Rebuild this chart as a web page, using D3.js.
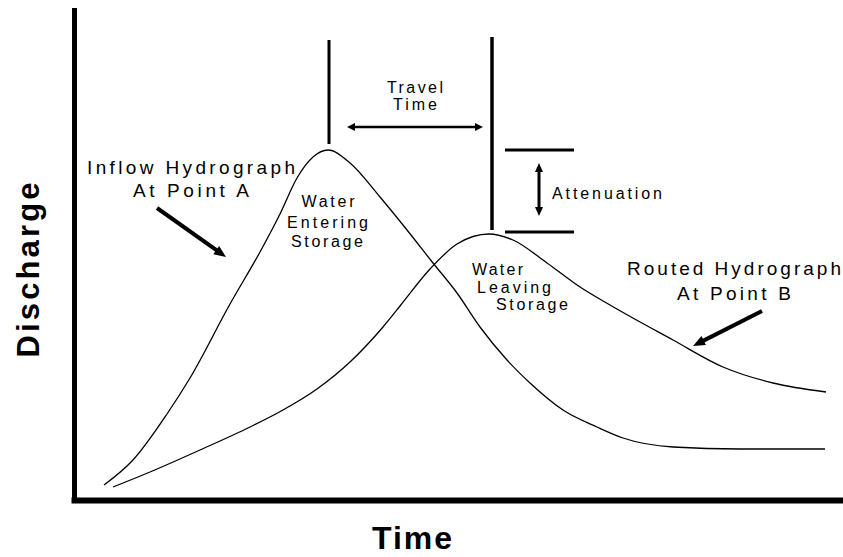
<!DOCTYPE html>
<html>
<head>
<meta charset="utf-8">
<script src="https://cdn.jsdelivr.net/npm/d3@7"></script>
<style>
  body { margin: 0; background: #fff; }
  text { font-family: "Liberation Sans", Arial, sans-serif; fill: #000; }
</style>
</head>
<body>
<div id="chart"></div>
<script>
// inflow hydrograph at point A (time, discharge - arbitrary units)
const inflowTime = [1.5, 2.95, 4.65, 5.8, 7.8, 9.3, 10.3, 11.15, 11.95, 12.7, 13.8, 15.3, 16.65, 17.95, 19.15, 20.3, 21.65, 22.8, 24.45, 26.15, 27.45, 29.95, 33.3, 37.55];
const inflowQ = [3.75, 10, 21.5, 30.5, 49, 62, 71.5, 80.5, 85.75, 87.5, 84.25, 75.75, 67.5, 59.25, 51.75, 43.25, 35, 29.25, 22.5, 18.25, 15.5, 13.25, 12.75, 12.75];

// routed hydrograph at point B
const routedTime = [1.95, 3.8, 6.3, 8.8, 10.45, 12.15, 13.8, 15.45, 16.3, 17.8, 19.15, 20.75, 21.95, 23.65, 25.3, 26.8, 29.95, 32.45, 34.95, 37.6];
const routedQ = [3.25, 7, 12.5, 18.25, 22.5, 27.75, 34.5, 43.25, 48.5, 57.75, 64, 66.5, 65, 59.25, 53.25, 48.75, 40, 33.25, 29.25, 27];

// peak times used for the travel time markers
const peakTimes = [12.75, 20.9];

const width = 843, height = 557;

const svg = d3.select("#chart")
    .append("svg")
    .attr("width", width)
    .attr("height", height);

const x = d3.scaleLinear().domain([0, 38.3]).range([74, 840]);
const y = d3.scaleLinear().domain([0, 122.5]).range([500, 10]);

// axes: plain heavy lines, no ticks
const yAxis = svg.append("g")
    .attr("transform", `translate(${x(0)},0)`)
    .call(d3.axisLeft(y).tickValues([]).tickSizeOuter(0));
yAxis.select(".domain").attr("stroke-width", 5).attr("stroke-linecap", "square");

const xAxis = svg.append("g")
    .attr("transform", `translate(0,${y(0)})`)
    .call(d3.axisBottom(x).tickValues([]).tickSizeOuter(0));
xAxis.select(".domain").attr("stroke-width", 6).attr("stroke-linecap", "square");

const line = d3.line()
    .x(d => x(d[0]))
    .y(d => y(d[1]))
    .curve(d3.curveMonotoneX);

svg.append("path")
    .datum(d3.zip(inflowTime, inflowQ))
    .attr("d", line)
    .attr("fill", "none")
    .attr("stroke", "#000")
    .attr("stroke-width", 1.3);

svg.append("path")
    .datum(d3.zip(routedTime, routedQ))
    .attr("d", line)
    .attr("fill", "none")
    .attr("stroke", "#000")
    .attr("stroke-width", 1.3);

// arrow helper: line with filled heads (at end, or both ends)
function arrow(x1, y1, x2, y2, len, w, sw, both) {
    const dx = x2 - x1, dy = y2 - y1, d = Math.hypot(dx, dy);
    const ux = dx / d, uy = dy / d;
    const sx = both ? x1 + ux * len * 0.8 : x1;
    const sy = both ? y1 + uy * len * 0.8 : y1;
    svg.append("line")
        .attr("x1", sx).attr("y1", sy)
        .attr("x2", x2 - ux * len * 0.8).attr("y2", y2 - uy * len * 0.8)
        .attr("stroke", "#000").attr("stroke-width", sw);
    const head = (tx, ty, vx, vy) => {
        const bx = tx - vx * len, by = ty - vy * len;
        svg.append("path")
            .attr("d", `M${tx},${ty}L${bx - vy * w / 2},${by + vx * w / 2}L${bx + vy * w / 2},${by - vx * w / 2}Z`)
            .attr("fill", "#000");
    };
    head(x2, y2, ux, uy);
    if (both) head(x1, y1, -ux, -uy);
}

// peak markers
svg.append("line")
    .attr("x1", x(peakTimes[0])).attr("x2", x(peakTimes[0]))
    .attr("y1", y(115)).attr("y2", y(89))
    .attr("stroke", "#000").attr("stroke-width", 3);
svg.append("line")
    .attr("x1", x(peakTimes[1])).attr("x2", x(peakTimes[1]))
    .attr("y1", y(115.75)).attr("y2", y(67.5))
    .attr("stroke", "#000").attr("stroke-width", 3.5);

// travel time arrow
arrow(x(13.65), y(93.25), x(20.45), y(93.25), 8, 8, 2.5, true);

// attenuation bars at the two peak heights
const peaks = [d3.max(inflowQ), 67];
peaks.forEach(q => {
    svg.append("line")
        .attr("x1", x(21.55)).attr("x2", x(25))
        .attr("y1", y(q)).attr("y2", y(q))
        .attr("stroke", "#000").attr("stroke-width", 3);
});
arrow(x(23.25), y(84.25), x(23.25), y(71), 9, 8, 3, true);

// pointer arrows
arrow(x(4.15), y(73), x(7.6), y(60.75), 12, 10, 4, false);
arrow(x(34.4), y(47.25), x(30.95), y(38.5), 12, 10, 4, false);

// labels
const labels = [
    { t: "Inflow Hydrograph", x: 191, y: 174, len: 208, size: 19 },
    { t: "At Point A", x: 191, y: 197, len: 116, size: 19 },
    { t: "Travel", x: 415, y: 93, len: 56, size: 16 },
    { t: "Time", x: 415, y: 110, len: 44, size: 16 },
    { t: "Water", x: 328, y: 207, len: 53, size: 16 },
    { t: "Entering", x: 327.5, y: 228, len: 81, size: 16 },
    { t: "Storage", x: 327, y: 247, len: 72, size: 16 },
    { t: "Water", x: 497.5, y: 275, len: 51, size: 16 },
    { t: "Leaving", x: 514, y: 293, len: 74, size: 16 },
    { t: "Storage", x: 532, y: 310, len: 72, size: 16 },
    { t: "Attenuation", x: 607, y: 199, len: 110, size: 16 },
    { t: "Routed Hydrograph", x: 734, y: 275, len: 214, size: 19 },
    { t: "At Point B", x: 734, y: 300, len: 114, size: 19 }
];
svg.selectAll("text.lbl")
    .data(labels)
    .join("text")
    .attr("class", "lbl")
    .attr("x", d => d.x)
    .attr("y", d => d.y)
    .attr("text-anchor", "middle")
    .attr("font-size", d => d.size)
    .attr("textLength", d => d.len)
    .attr("lengthAdjust", "spacing")
    .text(d => d.t);

// axis titles
svg.append("text")
    .attr("transform", "translate(39,270) rotate(-90)")
    .attr("text-anchor", "middle")
    .attr("font-size", 31)
    .attr("font-weight", "bold")
    .attr("textLength", 175)
    .attr("lengthAdjust", "spacing")
    .text("Discharge");

svg.append("text")
    .attr("x", 412)
    .attr("y", 549)
    .attr("text-anchor", "middle")
    .attr("font-size", 32)
    .attr("font-weight", "bold")
    .attr("textLength", 80)
    .attr("lengthAdjust", "spacing")
    .text("Time");
</script>
</body>
</html>
